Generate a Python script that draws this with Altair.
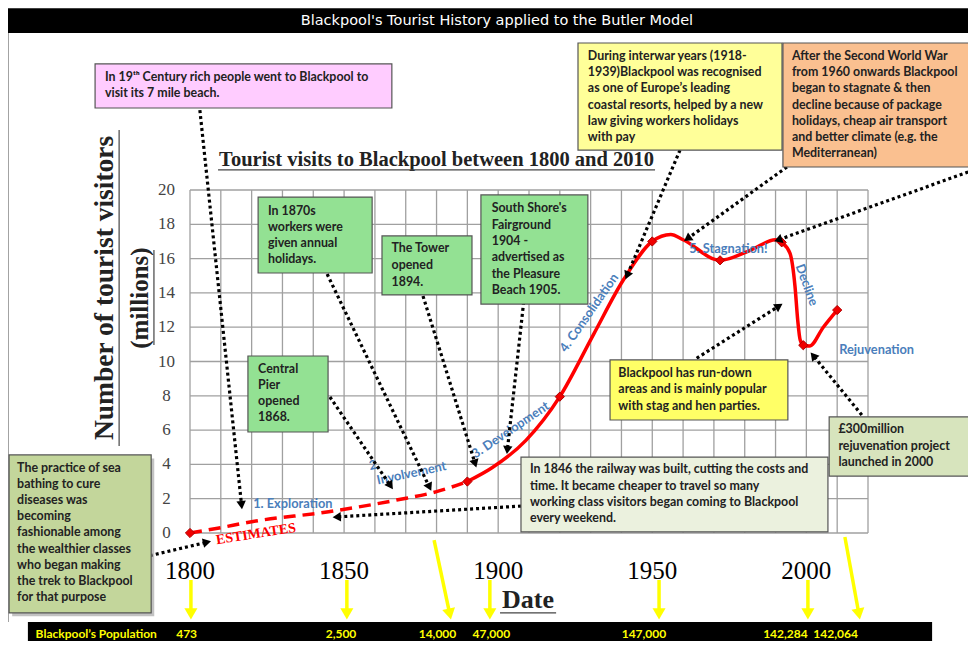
import math
import altair as alt
import pandas as pd

# ---------------- data ----------------
# Tourist visits (millions): dashed "estimates" part and solid part
est_years = [1800, 1809, 1820, 1845, 1867, 1880, 1890]
est_visits = [0.0, 0.28, 0.66, 1.24, 1.92, 2.41, 3.0]
obs_years = [1890, 1898, 1909, 1920, 1931, 1940.6, 1950, 1956, 1960, 1972,
             1982, 1990, 1992, 1994.7, 1996.3, 1997.2, 1998, 1999, 2001, 2005.5, 2010]
obs_visits = [3.0, 3.8, 5.4, 7.95, 11.6, 14.75, 17.0, 17.4, 17.1, 15.9,
              16.5, 17.1, 16.95, 16.3, 14.4, 12.4, 11.25, 10.95, 10.9, 12.0, 13.0]
marker_years = [1800, 1890, 1920, 1950, 1972, 1992, 1999, 2010]
marker_visits = [0.0, 3.0, 7.95, 17.0, 15.9, 16.95, 10.95, 13.0]

grid_years = list(range(1800, 2021, 10))
grid_visits = list(range(0, 21, 2))
axis_years = [1800, 1850, 1900, 1950, 2000]

pop_labels = ["473", "2,500", "14,000", "47,000", "147,000", "142,284", "142,064"]
pop_at = [1798.9, 1849.0, 1880.3, 1897.8, 1947.3, 1993.2, 2009.5]

TITLE = "Blackpool's Tourist History applied to the Butler Model"
CHART_TITLE = "Tourist visits to Blackpool between 1800 and 2010"

PINK = ["In 19ᵗʰ Century rich people went to Blackpool to", "visit its 7 mile  beach."]
INTERWAR = ["During interwar years (1918-", "1939)Blackpool was recognised",
            "as one of Europe’s leading", "coastal resorts, helped by a new",
            "law giving workers holidays", "with pay"]
ORANGE = ["After the Second World War", "from 1960 onwards Blackpool",
          "began to stagnate & then", "decline because of package",
          "holidays, cheap air transport", "and better climate  (e.g. the",
          "Mediterranean)"]
OLIVE = ["The practice of sea", "bathing to cure", "diseases was", "becoming",
         "fashionable among", "the wealthier classes", "who began making",
         "the trek to Blackpool", "for that purpose"]
PIER = ["Central", "Pier", "opened", "1868."]
HOLS = ["In 1870s", "workers were", "given annual", "holidays."]
TOWER = ["The Tower", "opened", "1894."]
SOUTH = ["South Shore's", "Fairground", "1904 -", "advertised as", "the Pleasure", "Beach 1905."]
RUNDOWN = ["Blackpool has run-down", "areas and is mainly popular", "with  stag and hen parties."]
RAIL = ["In 1846 the railway was built, cutting the costs and",
        "time.  It became cheaper to travel so many",
        "working class visitors began coming to Blackpool", "every weekend."]
REJUV = ["£300million", "rejuvenation project", "launched in 2000"]

# ---------------- layout helpers (positions in data units) ----------------
W, H = 678, 343
X0, X1, Y0, Y1 = 1800, 2020, 0, 20
PXY = W / (X1 - X0)   # px per year
PXV = H / (Y1 - Y0)   # px per million
XS = alt.Scale(domain=[X0, X1], nice=False, zero=False)
YS = alt.Scale(domain=[Y0, Y1], nice=False, zero=False)
GREEN = "#93e193"
BOXFONT = "Lato"
SERIF = "Liberation Serif"

boxes = pd.DataFrame([
    dict(x=1769.2, x2=1865.5, y=24.78, y2=27.35, fill="#ffccff"),
    dict(x=1925.9, x2=1992.1, y=22.33, y2=28.57, fill="#ffff99"),
    dict(x=1992.4, x2=2053.7, y=21.34, y2=28.57, fill="#fac090"),
    dict(x=1741.3, x2=1787.4, y=-4.66, y2=4.55, fill="#c3d69b"),
    dict(x=1818.8, x2=1844.8, y=5.89, y2=10.32, fill=GREEN),
    dict(x=1822.1, x2=1859.1, y=15.16, y2=19.59, fill=GREEN),
    dict(x=1862.3, x2=1891.5, y=13.88, y2=17.32, fill=GREEN),
    dict(x=1894.4, x2=1929.1, y=13.35, y2=19.71, fill=GREEN),
    dict(x=1936.3, x2=1994.0, y=6.59, y2=10.09, fill="#ffff66"),
    dict(x=1907.4, x2=2007.0, y=0.06, y2=4.43, fill="#ebf1de"),
    dict(x=2007.4, x2=2053.4, y=3.32, y2=6.77, fill="#d7e4bd"),
])
# olive box drop shadow
shadow = pd.DataFrame([dict(x=1742.3, x2=1788.4, y=-4.86, y2=4.35)])


def lines(texts, x, y0, step):
    return [dict(text=t, x=x, y=y0 - i * step) for i, t in enumerate(texts)]


box_text = pd.DataFrame(
    lines(PINK, 1772.4, 26.59, 0.933)
    + lines(INTERWAR, 1929.1, 27.81, 0.945)
    + lines(ORANGE, 1995.3, 27.81, 0.945)
    + lines(OLIVE, 1743.9, 3.79, 0.939)
    + lines(PIER, 1822.1, 9.56, 0.933)
    + lines(HOLS, 1825.3, 18.79, 0.94)
    + lines(TOWER, 1865.4, 16.60, 0.975)
    + lines(SOUTH, 1897.9, 18.93, 0.952)
    + lines(RUNDOWN, 1939.0, 9.35, 0.97)
    + lines(RAIL, 1910.3, 3.71, 0.95)
    + lines(REJUV, 2010.4, 6.06, 0.96)
)

phase_ctr = pd.DataFrame([
    dict(text="2.", x=1859.8, y=3.96, angle=349),
    dict(text="Involvement", x=1871.9, y=3.48, angle=348),
    dict(text="3. Development", x=1904.0, y=6.0, angle=326),
    dict(text="4. Consolidation", x=1929.5, y=12.83, angle=305),
    dict(text="5. Stagnation!", x=1974.7, y=16.54, angle=0),
    dict(text="Decline", x=2000.1, y=14.46, angle=70),
    dict(text="Rejuvenation", x=2022.8, y=10.67, angle=0),
])
phase_left = pd.DataFrame([dict(text="1. Exploration", x=1820.5, y=1.69)])

# dotted black arrows: start -> tip
dotted = [
    (1803.2, 24.66, 1816.9, 1.34),
    (1844.5, 15.10, 1878.4, 2.41),
    (1845.4, 7.93, 1866.0, 2.51),
    (1875.6, 13.82, 1893.0, 3.77),
    (1908.7, 14.17, 1902.8, 4.55),
    (1959.0, 22.33, 1941.2, 14.75),
    (1993.7, 21.34, 1960.1, 16.99),
    (2052.5, 21.05, 1989.3, 16.99),
    (1964.4, 10.19, 1992.5, 13.39),
    (2018.0, 6.88, 2001.2, 10.57),
    (1907.4, 1.57, 1846.0, 0.92),
    (1783.2, -1.48, 1807.1, -0.47),
]
# yellow arrows: start -> tip
yellow = [
    (1800.3, -2.74, 1800.3, -5.07),
    (1850.9, -2.74, 1850.9, -5.07),
    (1897.3, -2.74, 1897.3, -5.07),
    (1879.2, -0.41, 1884.7, -5.07),
    (1952.2, -2.74, 1952.2, -5.07),
    (2000.5, -2.74, 2000.5, -5.07),
    (2012.5, -0.23, 2017.4, -5.07),
]


def arrows(specs, back):
    segs, heads = [], []
    for x1, y1, x2, y2 in specs:
        dx = (x2 - x1) * PXY
        dy = -(y2 - y1) * PXV
        L = math.hypot(dx, dy)
        ux, uy = dx / L, dy / L
        ang = math.degrees(math.atan2(dx, -dy)) % 360
        cx = x2 - ux * back / PXY
        cy = y2 + uy * back / PXV
        segs.append(dict(x=x1, y=y1, x2=cx, y2=cy))
        heads.append(dict(x=cx, y=cy, angle=ang))
    return pd.DataFrame(segs), pd.DataFrame(heads)


dot_seg, dot_head = arrows(dotted, 5)
yel_seg, yel_head = arrows(yellow, 6)


def ex(f="x"):
    return alt.X(f"{f}:Q", scale=XS, axis=None)


def ey(f="y"):
    return alt.Y(f"{f}:Q", scale=YS, axis=None)


# ---------------- layers ----------------
vgrid = alt.Chart(pd.DataFrame({"year": grid_years})).mark_rule(
    color="#a0a0a0", strokeWidth=1.3).encode(x=ex("year"))
hgrid = alt.Chart(pd.DataFrame({"v": grid_visits})).mark_rule(
    color="#a0a0a0", strokeWidth=1.3).encode(y=ey("v"))

# tick labels placed through the scales
xlab = alt.Chart(pd.DataFrame({"year": axis_years, "y": [-2.2] * len(axis_years)})).mark_text(
    font=SERIF, fontSize=25, color="black", baseline="middle"
).encode(x=ex("year"), y=ey(), text=alt.Text("year:Q", format="d"))
ylab = alt.Chart(pd.DataFrame({"v": grid_visits, "x": [1792.4] * len(grid_visits)})).mark_text(
    font=SERIF, fontSize=17, color="#444", baseline="middle"
).encode(x=ex(), y=ey("v"), text=alt.Text("v:Q", format="d"))

title_bar = alt.Chart(pd.DataFrame([dict(x=1735, x2=2060, y=29.15, y2=30.6)])).mark_rect(
    color="black").encode(x=ex(), x2="x2:Q", y=ey(), y2="y2:Q")
title_txt = alt.Chart(pd.DataFrame([dict(x=1899.6, y=29.85, text=TITLE)])).mark_text(
    font="DejaVu Sans", fontSize=14.5, color="white", baseline="middle"
).encode(x=ex(), y=ey(), text="text:N")

left_border = alt.Chart(pd.DataFrame([dict(x=1741.0, y=29.15, y2=-5.19)])).mark_rule(
    color="#888", strokeWidth=1.2).encode(x=ex(), y=ey(), y2="y2:Q")

pop_bar = alt.Chart(pd.DataFrame([dict(x=1747.4, x2=2040.8, y=-5.19, y2=-7.0)])).mark_rect(
    color="black").encode(x=ex(), x2="x2:Q", y=ey(), y2="y2:Q")
pop_head = alt.Chart(pd.DataFrame([dict(x=1749.9, y=-5.9, text="Blackpool’s Population")])).mark_text(
    font=BOXFONT, fontWeight="bold", fontSize=12, color="#ffff00", align="left", baseline="middle"
).encode(x=ex(), y=ey(), text="text:N")
pop_vals = alt.Chart(pd.DataFrame({"x": pop_at, "text": pop_labels, "y": [-5.9] * len(pop_at)})).mark_text(
    font=BOXFONT, fontWeight="bold", fontSize=12, color="#ffff00", baseline="middle"
).encode(x=ex(), y=ey(), text="text:N")

shadow_layer = alt.Chart(shadow).mark_rect(color="#9a9a9a", opacity=0.6).encode(
    x=ex(), x2="x2:Q", y=ey(), y2="y2:Q")
box_layer = alt.Chart(boxes).mark_rect(stroke="#555", strokeWidth=1.2).encode(
    x=ex(), x2="x2:Q", y=ey(), y2="y2:Q", color=alt.Color("fill:N", scale=None))
box_txt = alt.Chart(box_text).mark_text(
    font=BOXFONT, fontWeight="bold", fontSize=12.4, color="#222", align="left", baseline="middle"
).encode(x=ex(), y=ey(), text="text:N")

dot_lines = alt.Chart(dot_seg).mark_rule(color="black", strokeWidth=3.2, strokeDash=[3, 3]).encode(
    x=ex(), y=ey(), x2="x2:Q", y2="y2:Q")
dot_heads = alt.Chart(dot_head).mark_point(
    shape="triangle-up", filled=True, size=90, color="black", opacity=1
).encode(x=ex(), y=ey(), angle=alt.Angle("angle:Q", scale=None))

yel_lines = alt.Chart(yel_seg).mark_rule(color="#ffff00", strokeWidth=3.5).encode(
    x=ex(), y=ey(), x2="x2:Q", y2="y2:Q")
yel_heads = alt.Chart(yel_head).mark_point(
    shape="triangle-up", filled=True, size=170, color="#ffff00", opacity=1
).encode(x=ex(), y=ey(), angle=alt.Angle("angle:Q", scale=None))

est_line = alt.Chart(pd.DataFrame({"year": est_years, "v": est_visits})).mark_line(
    color="#ff0000", strokeWidth=3.5, strokeDash=[12, 7], interpolate="monotone"
).encode(x=ex("year"), y=ey("v"))
obs_line = alt.Chart(pd.DataFrame({"year": obs_years, "v": obs_visits})).mark_line(
    color="#ff0000", strokeWidth=3.5, interpolate="monotone"
).encode(x=ex("year"), y=ey("v"))
markers = alt.Chart(pd.DataFrame({"year": marker_years, "v": marker_visits})).mark_point(
    shape="diamond", filled=True, size=85, color="#f00000", stroke="#b00000", strokeWidth=1, opacity=1
).encode(x=ex("year"), y=ey("v"))

phase_txt = alt.Chart(phase_ctr).mark_text(
    font=BOXFONT, fontWeight="bold", fontSize=12.8, color="#4a7ebb", baseline="middle", align="center"
).encode(x=ex(), y=ey(), text="text:N", angle=alt.Angle("angle:Q", scale=None))
phase_txt_l = alt.Chart(phase_left).mark_text(
    font=BOXFONT, fontWeight="bold", fontSize=12.8, color="#4a7ebb", baseline="middle", align="left"
).encode(x=ex(), y=ey(), text="text:N")

estimates = alt.Chart(pd.DataFrame([dict(x=1821.4, y=-0.06, text="ESTIMATES")])).mark_text(
    font=SERIF, fontWeight="bold", fontSize=14, color="#ff0000", angle=351, baseline="middle"
).encode(x=ex(), y=ey(), text="text:N")

chart_title = alt.Chart(pd.DataFrame([dict(x=1880.0, y=21.75, text=CHART_TITLE)])).mark_text(
    font=SERIF, fontWeight="bold", fontSize=20.5, color="#222", baseline="middle"
).encode(x=ex(), y=ey(), text="text:N")
y_titles = alt.Chart(pd.DataFrame([
    dict(x=1772.4, y=14.29, text="Number of tourist visitors", size=27.5),
    dict(x=1783.8, y=13.70, text="(millions)", size=25),
])).mark_text(
    font=SERIF, fontWeight="bold", color="#222", baseline="middle", angle=270
).encode(x=ex(), y=ey(), text="text:N", size=alt.Size("size:Q", scale=None))
date_title = alt.Chart(pd.DataFrame([dict(x=1909.7, y=-3.91, text="Date")])).mark_text(
    font=SERIF, fontWeight="bold", fontSize=26, color="#222", baseline="middle"
).encode(x=ex(), y=ey(), text="text:N")

underlines_h = alt.Chart(pd.DataFrame([
    dict(x=1809.1, x2=1950.9, y=21.17),
    dict(x=1900.6, x2=1918.8, y=-4.66),
])).mark_rule(color="#444", strokeWidth=1.2).encode(x=ex(), x2="x2:Q", y=ey())
underlines_v = alt.Chart(pd.DataFrame([
    dict(x=1777.0, y=23.50, y2=5.07),
    dict(x=1788.3, y=16.50, y2=10.96),
])).mark_rule(color="#444", strokeWidth=1.2).encode(x=ex(), y=ey(), y2="y2:Q")

chart = alt.layer(
    vgrid, hgrid, xlab, ylab, title_bar, title_txt, left_border, pop_bar,
    yel_lines, yel_heads, pop_head, pop_vals,
    est_line, obs_line, markers,
    phase_txt, phase_txt_l, estimates,
    dot_lines, dot_heads,
    shadow_layer, box_layer, box_txt,
    chart_title, y_titles, date_title, underlines_h, underlines_v,
).properties(
    width=W, height=H,
    padding={"left": 182, "top": 182, "right": 100, "bottom": 108},
    autosize=alt.AutoSizeParams(type="none"),
    background="white",
).configure_view(stroke=None)

chart.save("out.html", embed_options={"renderer": "svg", "actions": False})
